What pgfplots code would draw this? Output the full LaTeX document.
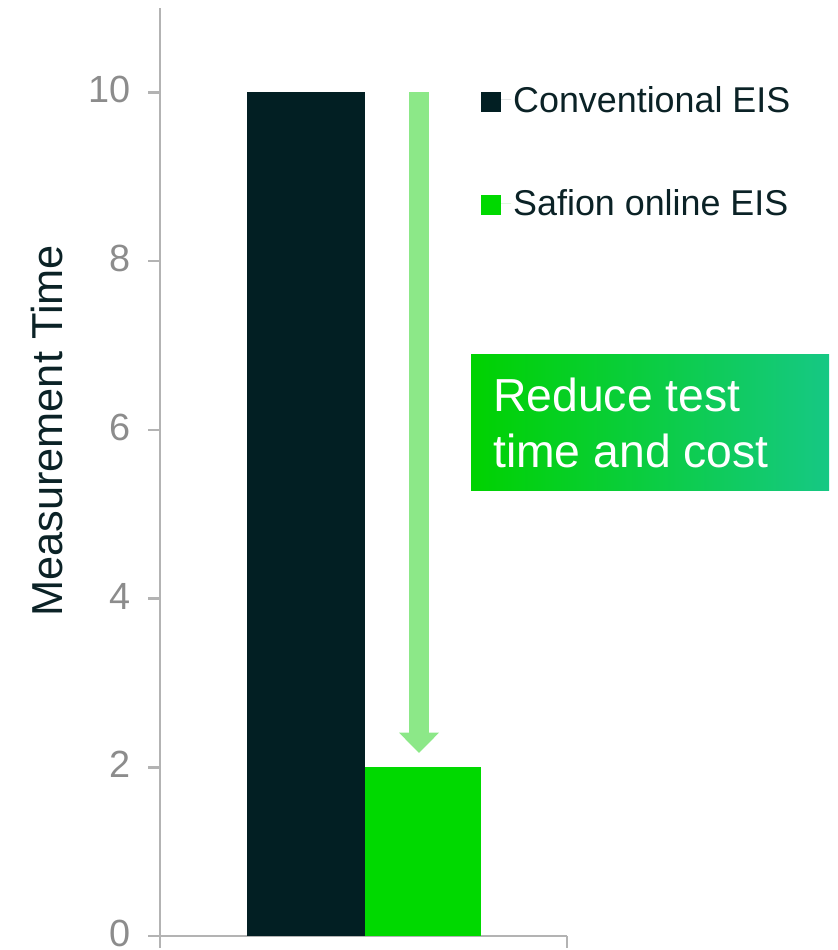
\documentclass[border=0pt]{standalone}
\usepackage{pgfplots}
\pgfplotsset{compat=1.18}
\usepackage{fontspec}
\setmainfont{Liberation Sans}
\definecolor{darkbar}{HTML}{021F23}
\definecolor{greenbar}{HTML}{00D900}
\definecolor{arrowgreen}{HTML}{8CE888}
\definecolor{axisgray}{HTML}{B3B3B3}
\definecolor{ticklab}{HTML}{8C8C8C}
\definecolor{textdark}{HTML}{0B2226}
\definecolor{boxleft}{HTML}{00D200}
\definecolor{boxright}{HTML}{16C884}
\begin{document}
\begin{tikzpicture}[x=1bp,y=1bp]
\useasboundingbox (0,0) rectangle (838,950);
\begin{axis}[
  at={(160bp,14bp)}, anchor=south west,
  scale only axis, width=407bp, height=928bp,
  xmin=0, xmax=407, ymin=0, ymax=11,
  axis lines*=left,
  axis line style={-, draw=axisgray, line width=2.5bp},
  every tick/.style={draw=axisgray, line width=2.5bp},
  tick align=outside, major tick length=12bp,
  xtick={0,407}, xticklabels={},
  ytick={0,2,4,6,8,10},
  yticklabel style={text=ticklab, font=\fontsize{38}{38}\selectfont, inner sep=0pt, anchor=east, xshift=-17bp, yshift=2.5bp},
  /pgf/number format/assume math mode=true,
  clip=false,
  legend style={at={(axis cs:321,10.1)}, anchor=north west, draw=none, fill=none,
    inner sep=0pt, row sep=72bp,
    nodes={inner sep=2bp, text=textdark, font=\fontsize{36}{36}\selectfont}},
  legend cell align=left,
]
\addplot[ybar, bar width=118, bar shift=0pt, fill=darkbar, draw=none,
  legend image code/.code={\fill[darkbar] (0bp,-12bp) rectangle (20bp,8bp); \path (0bp,0bp) -- (30bp,0bp);}]
  coordinates {(146,10)};
\addlegendentry{Conventional EIS}
\addplot[ybar, bar width=116, bar shift=0pt, fill=greenbar, draw=none,
  legend image code/.code={\fill[greenbar] (0bp,-12bp) rectangle (20bp,8bp); \path (0bp,0bp) -- (30bp,0bp);}]
  coordinates {(263,2)};
\addlegendentry{Safion online EIS}
% arrow annotation
\fill[arrowgreen] (axis cs:249,10) rectangle (axis cs:269,2.41);
\fill[arrowgreen] (axis cs:239,2.41) -- (axis cs:279,2.41) -- (axis cs:259,2.17) -- cycle;
\end{axis}
% text box
\shade[left color=boxleft, right color=boxright] (471,459) rectangle (829,595);
\node[anchor=base west, inner sep=0pt, text=white, font=\fontsize{46.5}{46.5}\selectfont] at (493,538) {Reduce test};
\node[anchor=base west, inner sep=0pt, text=white, font=\fontsize{46.5}{46.5}\selectfont] at (493,482) {time and cost};
% y label
\node[rotate=90, anchor=base, inner sep=0pt, text=textdark, font=\fontsize{43.5}{43.5}\selectfont] at (62,519) {Measurement Time};
\end{tikzpicture}
\end{document}
